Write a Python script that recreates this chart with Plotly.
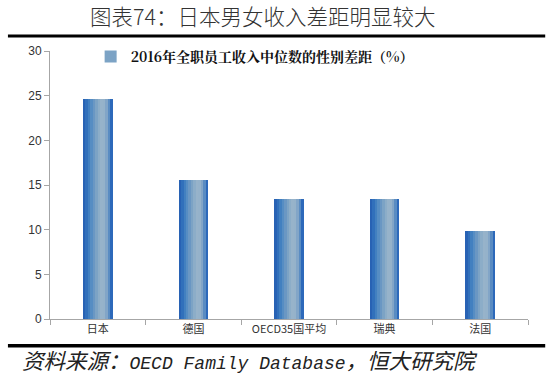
import plotly.graph_objects as go

categories = ["日本", "德国", "OECD35国平均", "瑞典", "法国"]
values = [24.6, 15.6, 13.4, 13.4, 9.8]
series_name = "2016年全职员工收入中位数的性别差距（%）"
y_ticks = [0, 5, 10, 15, 20, 25, 30]

title_text = "图表74：日本男女收入差距明显较大"
source_cjk_a = "资料来源："
source_latin = "OECD Family Database"
source_cjk_b = "，恒大研究院"

# gradient stripes for bars (left dark -> light -> dark right)
stripe_colors = ["#2862b4", "#3170bb", "#4280c0", "#568dc3", "#6a97c3", "#7ca3c5",
                 "#8cadc8", "#97b3ca", "#95b2ca", "#82a5c7", "#5a8cc2", "#2d69ba"]
bar_w = 0.31
n = len(stripe_colors)
sw = bar_w / n

fig = go.Figure()
fig.add_trace(go.Bar(
    x=categories, y=values, width=bar_w, offset=-bar_w / 2,
    marker=dict(color="#5a8cc2", line=dict(width=0)),
    name=series_name, showlegend=False, hoverinfo="skip",
))
for i, c in enumerate(stripe_colors):
    w = sw * 1.6 if i < n - 1 else sw
    fig.add_trace(go.Bar(
        x=categories, y=values, width=w, offset=-bar_w / 2 + i * sw,
        marker=dict(color=c, line=dict(width=0)),
        name=series_name, showlegend=(i == 5), hoverinfo="skip",
    ))

source_text = ("<span style='font-size:21.5px'>" + source_cjk_a + "</span>" + source_latin +
               "<span style='font-size:21.5px'>" + source_cjk_b + "</span>")

fig.update_layout(
    width=550, height=381,
    margin=dict(l=50, r=22, t=51, b=62, autoexpand=False),
    paper_bgcolor="white", plot_bgcolor="white",
    barmode="overlay", bargap=0,
    font=dict(family="Noto Sans CJK SC", color="#222"),
    showlegend=True,
    legend=dict(x=0.085, y=0.978, xanchor="left", yanchor="middle", orientation="h",
                font=dict(family="Noto Serif CJK SC, Noto Sans CJK SC", size=14, color="#111", weight="bold"),
                bgcolor="rgba(0,0,0,0)", itemwidth=30),
    xaxis=dict(type="category", showline=True, linecolor="#a6a6a6", linewidth=1,
               ticks="outside", tickson="boundaries", tickcolor="#a6a6a6", ticklen=5,
               tickfont=dict(family="Noto Sans CJK SC", size=11, color="#333"),
               showgrid=False, range=[-0.5, 4.5]),
    yaxis=dict(range=[0, 30], tickvals=y_ticks, showline=True, linecolor="#a6a6a6", linewidth=1,
               ticks="outside", tickcolor="#a6a6a6", ticklen=5, showgrid=False, zeroline=False,
               tickfont=dict(family="Liberation Sans", size=12, color="#333")),
    shapes=[
        dict(type="line", xref="paper", yref="paper", x0=-0.088, x1=1.036, y0=1.056, y1=1.056,
             line=dict(color="black", width=3)),
        dict(type="line", xref="paper", yref="paper", x0=-0.088, x1=1.036, y0=-0.1, y1=-0.1,
             line=dict(color="black", width=3.5)),
    ],
    annotations=[
        dict(text=title_text, xref="paper", yref="paper", x=0.445, y=1.134, xanchor="center",
             yanchor="middle", showarrow=False,
             font=dict(family="Noto Sans CJK SC", size=21.5, color="#333", weight=300)),
        dict(text=source_text, xref="paper", yref="paper", x=-0.062, y=-0.162, xanchor="left",
             yanchor="middle", showarrow=False,
             font=dict(family="Liberation Mono, Noto Sans CJK SC", size=18, color="#222", style="italic")),
    ],
)

fig.write_html("out.html", config={"displayModeBar": False},
               post_script="document.body.style.margin='0';document.body.style.padding='0';")
